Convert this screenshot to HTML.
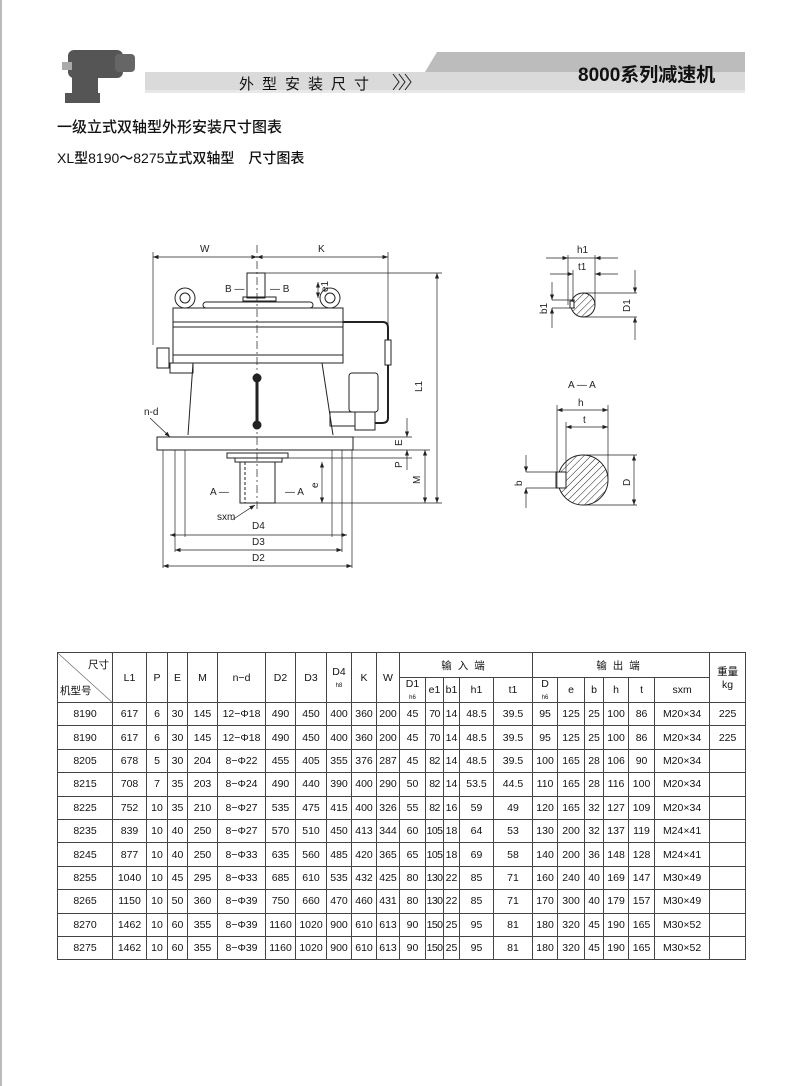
<!DOCTYPE html>
<html><head><meta charset="utf-8"><style>
body{margin:0;background:#fff;width:800px;height:1086px;position:relative;overflow:hidden;font-family:"Liberation Sans","Noto Sans CJK SC",sans-serif;}
.a{position:absolute;white-space:nowrap;color:#111}
table{position:absolute;left:57px;top:652px;border-collapse:collapse;table-layout:fixed;width:688px;font-size:10.5px;color:#111}
td{border:1px solid #444;text-align:center;padding:0;height:22.4px;overflow:hidden;white-space:nowrap}
tr.h td{height:24px}
td.n{letter-spacing:-0.6px}
</style></head><body>
<div style="position:absolute;left:0;top:0;width:2px;height:1086px;background:#bbb"></div>
<!-- header -->
<svg class="a" style="left:0;top:0" width="800" height="200">
<polygon points="437,52 745,52 745,72 425,72" fill="#bcbcbc"/>
<rect x="145" y="72" width="600" height="21" fill="#dadada"/>
<rect x="145" y="90" width="600" height="3" fill="#e8e8e8"/>
<g fill="#555"><rect x="68" y="50" width="55" height="28" rx="6"/><rect x="62" y="62" width="10" height="8" fill="#aaa"/><rect x="72" y="75" width="26" height="20"/><rect x="65" y="93" width="35" height="10"/><rect x="115" y="54" width="20" height="18" rx="4" fill="#666"/></g>
<polyline points="393,74 399,82 393,90" fill="none" stroke="#222" stroke-width="1"/>
<polyline points="399,74 405,82 399,90" fill="none" stroke="#222" stroke-width="1"/>
<polyline points="405,74 411,82 405,90" fill="none" stroke="#222" stroke-width="1"/>
</svg>
<div class="a" style="left:239px;top:73px;font-size:15px;letter-spacing:8px">外型安装尺寸</div>
<div class="a" style="left:578px;top:60px;font-size:19px;font-weight:bold">8000系列减速机</div>
<div class="a" style="left:57px;top:116px;font-size:15px;font-weight:500">一级立式双轴型外形安装尺寸图表</div>
<div class="a" style="left:57px;top:148px;font-size:14px;font-weight:500">XL型8190～8275立式双轴型　尺寸图表</div>
<!-- drawing -->
<svg class="a" style="left:0;top:0" width="800" height="600" font-family="Liberation Sans" font-size="10" fill="none" stroke="#222" stroke-width="1">
<defs><marker id="ar" markerWidth="8" markerHeight="6" refX="8" refY="3" orient="auto-start-reverse"><path d="M0,0 L8,3 L0,6z" fill="#222" stroke="none"/></marker>
<pattern id="hat" width="5" height="5" patternUnits="userSpaceOnUse" patternTransform="rotate(45)"><line x1="0" y1="0" x2="0" y2="5" stroke="#222" stroke-width="1"/></pattern></defs>
<line x1="153" y1="257" x2="257" y2="257" marker-start="url(#ar)" marker-end="url(#ar)" stroke-width=".7"/>
<line x1="257" y1="257" x2="388" y2="257" marker-start="url(#ar)" marker-end="url(#ar)" stroke-width=".7"/>
<line x1="153" y1="252" x2="153" y2="345" stroke-width=".7"/><line x1="388" y1="252" x2="388" y2="335" stroke-width=".7"/>
<line x1="257" y1="245" x2="257" y2="510" stroke-dasharray="8,3,2,3" stroke-width=".7"/>
<rect x="247" y="273" width="18" height="25"/><rect x="243" y="297" width="33" height="4"/>
<circle cx="185" cy="298" r="10"/><circle cx="185" cy="298" r="5"/><circle cx="330" cy="298" r="10"/><circle cx="330" cy="298" r="5"/>
<rect x="203" y="302" width="110" height="6" rx="3"/>
<rect x="173" y="308" width="170" height="55"/><line x1="173" y1="322" x2="343" y2="322"/><line x1="173" y1="327" x2="343" y2="327"/><line x1="173" y1="355" x2="343" y2="355"/>
<path d="M193,363 L188,435 M322,363 L333,435"/>
<path d="M157,348 h12 v20 h-12z"/><rect x="170" y="363" width="23" height="10"/>
<rect x="157" y="437" width="196" height="13"/>
<line x1="163" y1="450" x2="163" y2="568" stroke-width=".7"/><line x1="352" y1="450" x2="352" y2="568" stroke-width=".7"/>
<line x1="175" y1="450" x2="175" y2="552" stroke-width=".7"/><line x1="342" y1="450" x2="342" y2="552" stroke-width=".7"/>
<line x1="185" y1="450" x2="185" y2="537" stroke-width=".7"/><line x1="332" y1="450" x2="332" y2="537" stroke-width=".7"/>
<rect x="227" y="453" width="61" height="5"/><rect x="235" y="458" width="47" height="4"/>
<rect x="240" y="462" width="35" height="41"/><line x1="245" y1="462" x2="245" y2="503" stroke-dasharray="3,2"/>
<line x1="170" y1="535" x2="347" y2="535" marker-start="url(#ar)" marker-end="url(#ar)" stroke-width=".7"/>
<line x1="175" y1="550" x2="342" y2="550" marker-start="url(#ar)" marker-end="url(#ar)" stroke-width=".7"/>
<line x1="163" y1="566" x2="352" y2="566" marker-start="url(#ar)" marker-end="url(#ar)" stroke-width=".7"/>
<line x1="257" y1="378" x2="257" y2="425" stroke-width="3"/><circle cx="257" cy="378" r="4" fill="#222"/><circle cx="257" cy="425" r="4" fill="#222"/>
<rect x="349" y="373" width="29" height="39" rx="3"/><rect x="355" y="412" width="20" height="18"/><rect x="330" y="412" width="25" height="14"/>
<path d="M343,322 H383 Q388,322 388,328 V340 M388,365 V418 Q388,423 382,423 H375" stroke-width="2"/><rect x="385" y="340" width="6" height="25"/>
<line x1="265" y1="273" x2="442" y2="273" stroke-width=".7"/><line x1="275" y1="503" x2="442" y2="503" stroke-width=".7"/>
<line x1="437" y1="273" x2="437" y2="503" marker-start="url(#ar)" marker-end="url(#ar)" stroke-width=".7"/>
<line x1="318" y1="282" x2="318" y2="298" marker-start="url(#ar)" marker-end="url(#ar)" stroke-width=".7"/>
<line x1="353" y1="437" x2="412" y2="437" stroke-width=".7"/><line x1="353" y1="450" x2="430" y2="450" stroke-width=".7"/><line x1="288" y1="458" x2="412" y2="458" stroke-width=".7"/>
<line x1="407" y1="418" x2="407" y2="437" marker-end="url(#ar)" stroke-width=".7"/><line x1="407" y1="450" x2="407" y2="470" marker-start="url(#ar)" stroke-width=".7"/>
<line x1="425" y1="450" x2="425" y2="503" marker-start="url(#ar)" marker-end="url(#ar)" stroke-width=".7"/>
<line x1="322" y1="462" x2="322" y2="503" marker-start="url(#ar)" marker-end="url(#ar)" stroke-width=".7"/>
<line x1="232" y1="520" x2="255" y2="505" marker-end="url(#ar)" stroke-width=".7"/>
<line x1="150" y1="418" x2="170" y2="437" marker-end="url(#ar)" stroke-width=".7"/>
<g fill="#222" stroke="none">
<text x="200" y="252">W</text><text x="318" y="252">K</text><text x="225" y="292">B —</text><text x="270" y="292">— B</text>
<text x="210" y="495">A —</text><text x="285" y="495">— A</text><text x="217" y="520">sxm</text>
<text x="252" y="529">D4</text><text x="252" y="545">D3</text><text x="252" y="561">D2</text><text x="144" y="415">n-d</text>
<text x="422" y="392" transform="rotate(-90 422 392)">L1</text><text x="328" y="292" transform="rotate(-90 328 292)">e1</text>
<text x="402" y="446" transform="rotate(-90 402 446)">E</text><text x="402" y="468" transform="rotate(-90 402 468)">P</text>
<text x="420" y="484" transform="rotate(-90 420 484)">M</text><text x="318" y="488" transform="rotate(-90 318 488)">e</text>
<text x="577" y="253">h1</text><text x="578" y="270">t1</text><text x="568" y="388">A — A</text><text x="578" y="406">h</text><text x="583" y="423">t</text>
<text x="547" y="314" transform="rotate(-90 547 314)">b1</text><text x="630" y="312" transform="rotate(-90 630 312)">D1</text>
<text x="522" y="486" transform="rotate(-90 522 486)">b</text><text x="630" y="486" transform="rotate(-90 630 486)">D</text></g>
<circle cx="583" cy="305" r="12" fill="url(#hat)"/><rect x="570" y="301" width="4" height="7" fill="#fff"/>
<line x1="546" y1="258" x2="568" y2="258" marker-end="url(#ar)" stroke-width=".7"/><line x1="618" y1="258" x2="595" y2="258" marker-end="url(#ar)" stroke-width=".7"/><line x1="568" y1="258" x2="595" y2="258" stroke-width=".7"/>
<line x1="550" y1="274" x2="573" y2="274" marker-end="url(#ar)" stroke-width=".7"/><line x1="618" y1="274" x2="595" y2="274" marker-end="url(#ar)" stroke-width=".7"/>
<line x1="568" y1="255" x2="568" y2="305" stroke-width=".7"/><line x1="595" y1="255" x2="595" y2="305" stroke-width=".7"/><line x1="573" y1="270" x2="573" y2="302" stroke-width=".7"/>
<line x1="583" y1="293" x2="637" y2="293" stroke-width=".7"/><line x1="583" y1="317" x2="637" y2="317" stroke-width=".7"/>
<line x1="635" y1="270" x2="635" y2="293" marker-end="url(#ar)" stroke-width=".7"/><line x1="635" y1="340" x2="635" y2="317" marker-end="url(#ar)" stroke-width=".7"/>
<line x1="552" y1="300" x2="575" y2="300" stroke-width=".7"/><line x1="552" y1="308" x2="575" y2="308" stroke-width=".7"/>
<line x1="552" y1="282" x2="552" y2="300" marker-end="url(#ar)" stroke-width=".7"/><line x1="552" y1="328" x2="552" y2="308" marker-end="url(#ar)" stroke-width=".7"/>
<circle cx="583" cy="480" r="25" fill="url(#hat)"/><rect x="556" y="472" width="10" height="16" fill="#fff"/>
<line x1="557" y1="405" x2="557" y2="488" stroke-width=".7"/><line x1="608" y1="405" x2="608" y2="480" stroke-width=".7"/><line x1="566" y1="422" x2="566" y2="488" stroke-width=".7"/>
<line x1="557" y1="410" x2="608" y2="410" marker-start="url(#ar)" marker-end="url(#ar)" stroke-width=".7"/>
<line x1="566" y1="427" x2="608" y2="427" marker-start="url(#ar)" marker-end="url(#ar)" stroke-width=".7"/>
<line x1="583" y1="455" x2="637" y2="455" stroke-width=".7"/><line x1="583" y1="505" x2="637" y2="505" stroke-width=".7"/>
<line x1="634" y1="455" x2="634" y2="505" marker-start="url(#ar)" marker-end="url(#ar)" stroke-width=".7"/>
<line x1="526" y1="472" x2="566" y2="472" stroke-width=".7"/><line x1="526" y1="488" x2="566" y2="488" stroke-width=".7"/>
<line x1="526" y1="455" x2="526" y2="472" marker-end="url(#ar)" stroke-width=".7"/><line x1="526" y1="508" x2="526" y2="488" marker-end="url(#ar)" stroke-width=".7"/>
</svg>
<table>
<colgroup><col style="width:55px"><col style="width:34px"><col style="width:21px"><col style="width:20px"><col style="width:30px"><col style="width:48px"><col style="width:30px"><col style="width:31px"><col style="width:25px"><col style="width:25px"><col style="width:23px"><col style="width:26px"><col style="width:18px"><col style="width:16px"><col style="width:34px"><col style="width:39px"><col style="width:25px"><col style="width:27px"><col style="width:19px"><col style="width:25px"><col style="width:26px"><col style="width:55px"><col style="width:36px"></colgroup>
<tr class="h"><td rowspan="2" style="position:relative;background:linear-gradient(to bottom left,transparent 49.5%,#444 50%,transparent 51%)"><span style="position:absolute;right:3px;top:4px">尺寸</span><span style="position:absolute;left:2px;bottom:4px">机型号</span></td><td rowspan="2">L1</td><td rowspan="2">P</td><td rowspan="2">E</td><td rowspan="2">M</td><td rowspan="2">n−d</td><td rowspan="2">D2</td><td rowspan="2">D3</td><td rowspan="2">D4<br><span style="font-size:6px">h8</span></td><td rowspan="2">K</td><td rowspan="2">W</td><td colspan="5" style="letter-spacing:6px">输入端</td><td colspan="6" style="letter-spacing:6px">输出端</td><td rowspan="2">重量<br>kg</td></tr>
<tr class="h"><td>D1<br><span style="font-size:6px;line-height:4px">h6</span></td><td>e1</td><td>b1</td><td>h1</td><td>t1</td><td>D<br><span style="font-size:6px">h6</span></td><td>e</td><td>b</td><td>h</td><td>t</td><td>sxm</td></tr>
<tr><td>8190</td><td>617</td><td>6</td><td>30</td><td>145</td><td>12−Φ18</td><td>490</td><td>450</td><td>400</td><td>360</td><td>200</td><td>45</td><td class="n">70</td><td>14</td><td>48.5</td><td>39.5</td><td>95</td><td>125</td><td>25</td><td>100</td><td>86</td><td>M20×34</td><td>225</td></tr>
<tr><td>8190</td><td>617</td><td>6</td><td>30</td><td>145</td><td>12−Φ18</td><td>490</td><td>450</td><td>400</td><td>360</td><td>200</td><td>45</td><td class="n">70</td><td>14</td><td>48.5</td><td>39.5</td><td>95</td><td>125</td><td>25</td><td>100</td><td>86</td><td>M20×34</td><td>225</td></tr>
<tr><td>8205</td><td>678</td><td>5</td><td>30</td><td>204</td><td>8−Φ22</td><td>455</td><td>405</td><td>355</td><td>376</td><td>287</td><td>45</td><td class="n">82</td><td>14</td><td>48.5</td><td>39.5</td><td>100</td><td>165</td><td>28</td><td>106</td><td>90</td><td>M20×34</td><td></td></tr>
<tr><td>8215</td><td>708</td><td>7</td><td>35</td><td>203</td><td>8−Φ24</td><td>490</td><td>440</td><td>390</td><td>400</td><td>290</td><td>50</td><td class="n">82</td><td>14</td><td>53.5</td><td>44.5</td><td>110</td><td>165</td><td>28</td><td>116</td><td>100</td><td>M20×34</td><td></td></tr>
<tr><td>8225</td><td>752</td><td>10</td><td>35</td><td>210</td><td>8−Φ27</td><td>535</td><td>475</td><td>415</td><td>400</td><td>326</td><td>55</td><td class="n">82</td><td>16</td><td>59</td><td>49</td><td>120</td><td>165</td><td>32</td><td>127</td><td>109</td><td>M20×34</td><td></td></tr>
<tr><td>8235</td><td>839</td><td>10</td><td>40</td><td>250</td><td>8−Φ27</td><td>570</td><td>510</td><td>450</td><td>413</td><td>344</td><td>60</td><td class="n">105</td><td>18</td><td>64</td><td>53</td><td>130</td><td>200</td><td>32</td><td>137</td><td>119</td><td>M24×41</td><td></td></tr>
<tr><td>8245</td><td>877</td><td>10</td><td>40</td><td>250</td><td>8−Φ33</td><td>635</td><td>560</td><td>485</td><td>420</td><td>365</td><td>65</td><td class="n">105</td><td>18</td><td>69</td><td>58</td><td>140</td><td>200</td><td>36</td><td>148</td><td>128</td><td>M24×41</td><td></td></tr>
<tr><td>8255</td><td>1040</td><td>10</td><td>45</td><td>295</td><td>8−Φ33</td><td>685</td><td>610</td><td>535</td><td>432</td><td>425</td><td>80</td><td class="n">130</td><td>22</td><td>85</td><td>71</td><td>160</td><td>240</td><td>40</td><td>169</td><td>147</td><td>M30×49</td><td></td></tr>
<tr><td>8265</td><td>1150</td><td>10</td><td>50</td><td>360</td><td>8−Φ39</td><td>750</td><td>660</td><td>470</td><td>460</td><td>431</td><td>80</td><td class="n">130</td><td>22</td><td>85</td><td>71</td><td>170</td><td>300</td><td>40</td><td>179</td><td>157</td><td>M30×49</td><td></td></tr>
<tr><td>8270</td><td>1462</td><td>10</td><td>60</td><td>355</td><td>8−Φ39</td><td>1160</td><td>1020</td><td>900</td><td>610</td><td>613</td><td>90</td><td class="n">150</td><td>25</td><td>95</td><td>81</td><td>180</td><td>320</td><td>45</td><td>190</td><td>165</td><td>M30×52</td><td></td></tr>
<tr><td>8275</td><td>1462</td><td>10</td><td>60</td><td>355</td><td>8−Φ39</td><td>1160</td><td>1020</td><td>900</td><td>610</td><td>613</td><td>90</td><td class="n">150</td><td>25</td><td>95</td><td>81</td><td>180</td><td>320</td><td>45</td><td>190</td><td>165</td><td>M30×52</td><td></td></tr>
</table>
</body></html>
